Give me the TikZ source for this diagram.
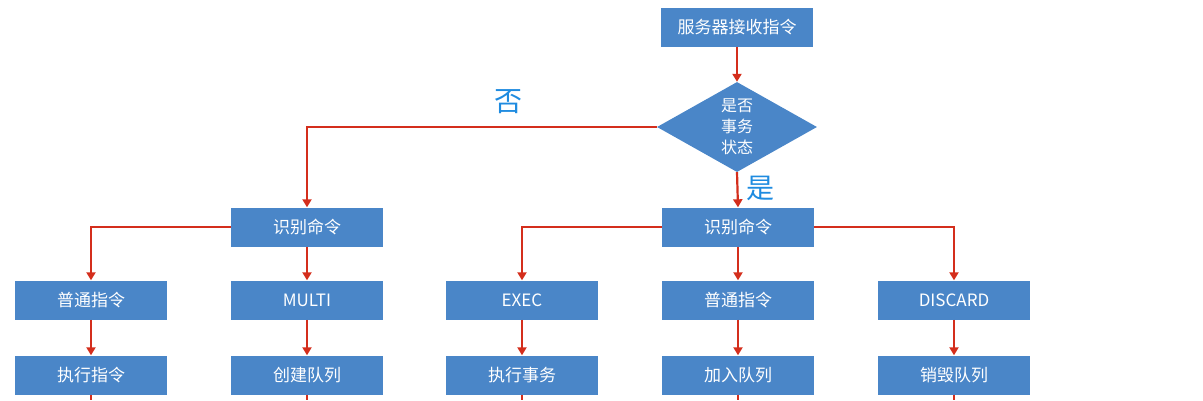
\documentclass[tikz,border=0pt]{standalone}
\usepackage{fontspec}
\setmainfont{Noto Sans CJK SC}
\usetikzlibrary{shapes.geometric,arrows.meta}
\definecolor{bx}{HTML}{4A86C8}
\definecolor{ar}{HTML}{D42E1C}
\definecolor{lb}{HTML}{1E8BE0}
\begin{document}
\begin{tikzpicture}[x=1pt,y=-1pt,
 box/.style={fill=bx,text=white,minimum width=152pt,minimum height=39pt,inner sep=0pt,font=\fontsize{17}{20}\selectfont},
 dia/.style={diamond,fill=bx,text=white,minimum width=160pt,minimum height=90pt,aspect=1.78,inner sep=0pt,font=\fontsize{16}{21}\selectfont,align=center},
 arr/.style={draw=ar,line width=2.2pt,-{Triangle[length=8pt,width=9pt]}},
 ln/.style={draw=ar,line width=2.2pt},
 lab/.style={text=lb,font=\fontsize{28}{30}\selectfont}]
\useasboundingbox (0,0) rectangle (1203,400);
\node[box] (top) at (737,27) {服务器接收指令};
\node[dia] (d) at (737,127) {是否\\事务\\状态};
\node[box] (L) at (307,227) {识别命令};
\node[box] (R) at (738,227) {识别命令};
\foreach \n/\x/\t in {a/91/普通指令,b/307/MULTI,c/522/EXEC,e/738/普通指令,f/954/DISCARD}
  \node[box] (\n2) at (\x,300) {\t};
\foreach \n/\x/\t in {a/91/执行指令,b/307/创建队列,c/522/执行事务,e/738/加入队列,f/954/销毁队列}{
  \node[box] (\n3) at (\x,375) {\t};
  \coordinate (\n4) at (\x,400);
  \draw[ln] (\n3.south) -- (\n4);
  \draw[arr] (\n2) -- (\n3);}
\draw[arr] (top) -- (d);
\draw[arr] (d.west) -| (L.north);
\draw[arr] (d.south) -- (R.north);
\draw[arr] (L.west) -| (a2.north);
\draw[arr] (L) -- (b2);
\draw[arr] (R.west) -| (c2.north);
\draw[arr] (R) -- (e2);
\draw[arr] (R.east) -| (f2.north);
\node[lab] (no) at (508,102) {否};
\node[lab] (yes) at (760,188) {是};
\end{tikzpicture}
\end{document}
